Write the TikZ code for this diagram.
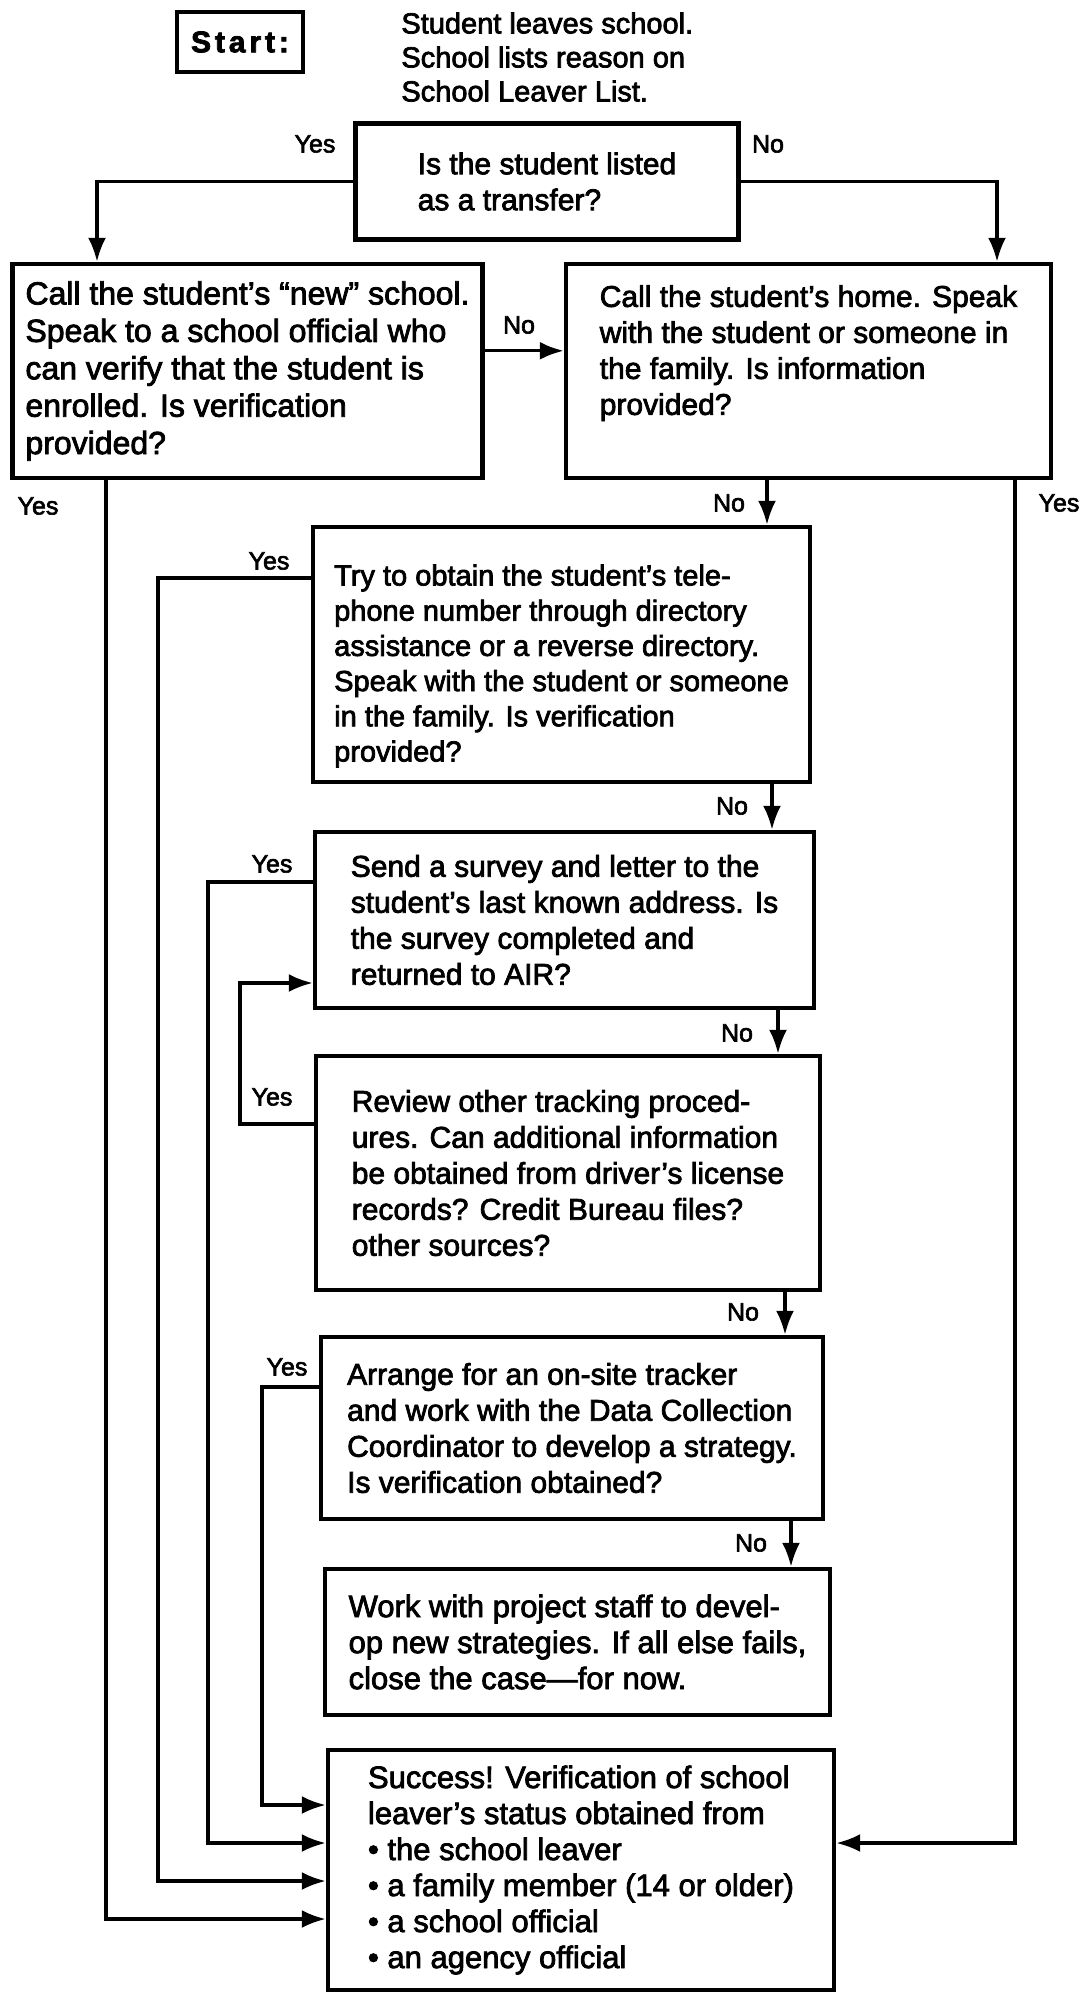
\documentclass[tikz,border=0pt]{standalone}
\usepackage{fontspec}
\setmainfont{Liberation Sans}[FakeBold=2.5]
\usetikzlibrary{arrows.meta}
\newcommand{\BoxFont}{\fontsize{15}{18}\selectfont}
\newcommand{\LblFont}{\fontsize{12.5}{14}\selectfont}
\newcommand{\Yes}{Yes}
\newcommand{\No}{No}

\begin{document}
\begin{tikzpicture}[x=0.5pt,y=-0.5pt,
  box/.style={draw,line width=2.2pt,align=left,inner sep=0pt,font=\BoxFont},
  flow/.style={line width=1.7pt,-{Latex[length=12pt,width=9pt]}},
  lbl/.style={font=\LblFont,inner sep=0pt}]
\useasboundingbox (0,0) rectangle (1083,2000);

\node[box,minimum width=63pt,minimum height=30pt] (Start) at (240,42)
     {\bfseries\addfontfeatures{LetterSpace=13}Start:};
\node[anchor=north west,align=left,inner sep=0pt,font=\fontsize{14.5}{17}\selectfont]
     (Leaves) at (401,12) {Student leaves school.\\School lists reason on\\School Leaver List.};
\node[box,minimum width=191.5pt,minimum height=58pt] (Transfer) at (547,181.5)
     {Is the student listed\\as a transfer?};

\node[box,minimum width=235pt,minimum height=107pt,font=\fontsize{16}{18.7}\selectfont]
     (NewSchool) at (247.5,371) {Call the student's ``new'' school.\\Speak to a school official who\\can verify that the student is\\enrolled.  Is verification\\provided?};
\node[box,minimum width=242.5pt,minimum height=107pt] (Home) at (808.5,371)
     {Call the student's home.  Speak\\with the student or someone in\\the family.  Is information\\provided?\rule[-21pt]{0pt}{21pt}};
\node[box,minimum width=248.5pt,minimum height=127.5pt,font=\fontsize{14.5}{17.6}\selectfont]
     (Phone) at (561.5,654.5) {\rule{0pt}{22pt}Try to obtain the student's tele-\\phone number through directory\\assistance or a reverse directory.\\Speak with the student or someone\\in the family.  Is verification\\provided?};
\node[box,minimum width=249.5pt,minimum height=88pt] (Survey) at (564.5,920)
     {Send  a survey and letter to the\\student's last known address.  Is\\the survey completed and\\returned to AIR?};
\node[box,minimum width=252pt,minimum height=117pt] (Review) at (568,1173)
     {Review other tracking proced-\\ures.  Can additional information\\be obtained from driver's license\\records?  Credit Bureau files?\\other sources?};
\node[box,minimum width=251pt,minimum height=91pt] (Tracker) at (572,1428)
     {Arrange for an on-site tracker\\and work with the Data Collection\\Coordinator to develop a strategy.\\Is verification obtained?};
\node[box,minimum width=252.5pt,minimum height=73pt,font=\fontsize{15.5}{18}\selectfont]
     (Staff) at (577.5,1642) {Work with project staff to devel-\\op new strategies.  If all else fails,\\close the case---for now.};
\node[box,minimum width=253pt,minimum height=120pt,font=\fontsize{15.5}{18}\selectfont]
     (Success) at (581,1870) {Success!  Verification of school\\leaver's status obtained from\\• the school leaver\\• a family member (14 or older)\\• a school official\\• an agency official};

% Yes / No labels
\node[lbl] (YesTransfer) at (315,144) {\Yes};
\node[lbl] (NoTransfer) at (768,144) {\No};
\node[lbl] (NoNewSchool) at (519,325) {\No};
\node[lbl] (YesNewSchool) at (38,506) {\Yes};
\node[lbl] (NoHome) at (729,503) {\No};
\node[lbl] (YesHome) at (1059,503) {\Yes};
\node[lbl] (YesPhone) at (269,561) {\Yes};
\node[lbl] (NoPhone) at (732,806) {\No};
\node[lbl] (YesSurvey) at (272,864) {\Yes};
\node[lbl] (NoSurvey) at (737,1033) {\No};
\node[lbl] (YesReview) at (272,1097) {\Yes};
\node[lbl] (NoReview) at (743,1312) {\No};
\node[lbl] (YesTracker) at (287,1367) {\Yes};
\node[lbl] (NoTracker) at (751,1543) {\No};

% corners of the routes
\coordinate (TransferL) at (97,181.5);
\coordinate (TransferR) at (997,181.5);
\coordinate (NewSchoolY) at (106,1919);
\coordinate (HomeY) at (1015,1843);
\coordinate (PhoneY) at (158,1881);
\coordinate (SurveyY) at (208,1843);
\coordinate (ReviewY) at (240,983);
\coordinate (TrackerY) at (262,1805);
\coordinate (HomeN) at (767,500);
\coordinate (PhoneN) at (772,800);
\coordinate (SurveyN) at (778,1030);
\coordinate (ReviewN) at (785,1310);
\coordinate (TrackerN) at (791,1540);

\draw[flow] (Transfer.west) -| (TransferL |- NewSchool.north);
\draw[flow] (Transfer.east) -| (TransferR |- Home.north);
\draw[flow] ([yshift=-44.5pt]NewSchool.north east) -- ([yshift=-44.5pt]Home.north west);
\draw[flow] (NewSchoolY |- NewSchool.south) -- (NewSchoolY) -- (NewSchoolY -| Success.west);
\draw[flow] (HomeY |- Home.south) -- (HomeY) -- (HomeY -| Success.east);
\draw[flow] (HomeN |- Home.south) -- (HomeN |- Phone.north);
\draw[flow] ([yshift=-26.5pt]Phone.north west) -| (PhoneY) -- (PhoneY -| Success.west);
\draw[flow] (PhoneN |- Phone.south) -- (PhoneN |- Survey.north);
\draw[flow] ([yshift=-26pt]Survey.north west) -| (SurveyY) -- (SurveyY -| Success.west);
\draw[flow] (SurveyN |- Survey.south) -- (SurveyN |- Review.north);
\draw[flow] ([yshift=-35pt]Review.north west) -| (ReviewY) -- (ReviewY -| Survey.west);
\draw[flow] (ReviewN |- Review.south) -- (ReviewN |- Tracker.north);
\draw[flow] ([yshift=-26pt]Tracker.north west) -| (TrackerY) -- (TrackerY -| Success.west);
\draw[flow] (TrackerN |- Tracker.south) -- (TrackerN |- Staff.north);
\end{tikzpicture}
\end{document}
